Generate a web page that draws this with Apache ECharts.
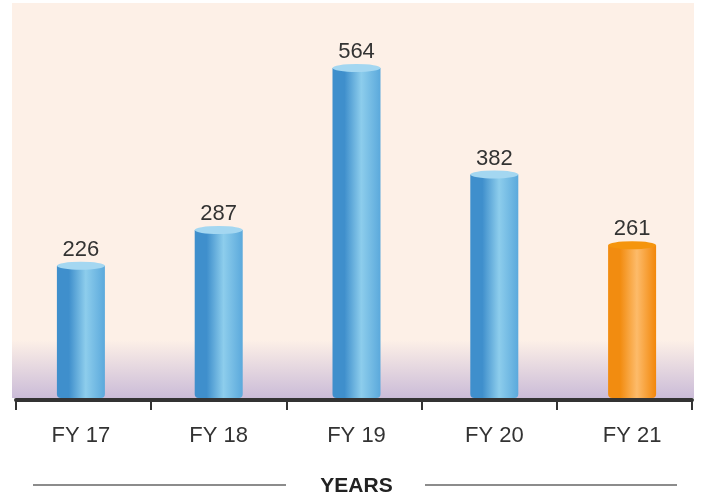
<!DOCTYPE html>
<html>
<head>
<meta charset="utf-8">
<script src="https://cdn.jsdelivr.net/npm/echarts@6/dist/echarts.min.js"></script>
<style>
  html, body { margin: 0; padding: 0; background: #fff; }
  #main { width: 704px; height: 498px; }
</style>
</head>
<body>
<div id="main"></div>
<script>
// data
var categories = ['FY 17', 'FY 18', 'FY 19', 'FY 20', 'FY 21']
var values = [226, 287, 564, 382, 261]
var highlightIndex = 4 // last year drawn in orange

var font = '"Liberation Sans", Arial, Helvetica, sans-serif'

function sideGradient (left, mid, right) {
  return new echarts.graphic.LinearGradient(0, 0, 1, 0, [
    { offset: 0, color: left },
    { offset: 0.25, color: left },
    { offset: 0.6, color: mid },
    { offset: 1, color: right }
  ])
}
var blueBody = sideGradient('#3f8fcc', '#8dcdec', '#5ba9dc')
var orangeBody = sideGradient('#f28c10', '#fdbb6a', '#f2870a')

var bodyData = values.map(function (v, i) {
  return { value: v, itemStyle: { color: i === highlightIndex ? orangeBody : blueBody } }
})
var topData = values.map(function (v, i) {
  return { value: v, itemStyle: { color: i === highlightIndex ? '#f5950e' : '#a4d7f1' } }
})

var myChart = echarts.init(document.getElementById('main'))
var option = {
  animation: false,
  graphic: [
    // peach plot background
    { type: 'rect', z: -10, shape: { x: 12, y: 3, width: 682, height: 395 }, style: { fill: '#fdf0e7' } },
    // purple floor shadow
    {
      type: 'rect', z: -9,
      shape: { x: 12, y: 340, width: 682, height: 58 },
      style: {
        fill: new echarts.graphic.LinearGradient(0, 0, 0, 1, [
          { offset: 0, color: 'rgba(200,185,215,0)' },
          { offset: 1, color: 'rgba(200,185,215,0.95)' }
        ])
      }
    },
    // lines beside the axis name
    { type: 'line', shape: { x1: 33, y1: 485, x2: 286, y2: 485 }, style: { stroke: '#666', lineWidth: 1.5 } },
    { type: 'line', shape: { x1: 425, y1: 485, x2: 677, y2: 485 }, style: { stroke: '#666', lineWidth: 1.5 } }
  ],
  grid: [
    { left: 12, right: 3, top: 3, bottom: 100, outerBoundsMode: 'none', containLabel: false },
    { left: 16, right: 12, top: 3, bottom: 98, outerBoundsMode: 'none', containLabel: false }
  ],
  xAxis: [
    {
      type: 'category',
      gridIndex: 0,
      data: categories,
      axisLine: { show: false },
      axisTick: { show: false },
      axisLabel: { color: '#333', fontSize: 22, fontFamily: font, margin: 27 },
      name: 'YEARS',
      nameLocation: 'middle',
      nameGap: 78,
      nameTextStyle: { color: '#222', fontSize: 21, fontWeight: 'bold', fontFamily: font }
    },
    {
      type: 'category',
      gridIndex: 1,
      data: categories,
      boundaryGap: true,
      axisLine: { show: true, lineStyle: { color: '#333', width: 4 } },
      axisTick: { show: true, interval: 0, length: 10, lineStyle: { color: '#333', width: 2 } },
      axisLabel: { show: true, interval: 0, color: 'rgba(0,0,0,0)', fontSize: 1 }
    }
  ],
  yAxis: [
    { type: 'value', gridIndex: 0, min: 0, max: 675, show: false },
    { type: 'value', gridIndex: 1, min: 0, max: 675, show: false }
  ],
  series: [
    {
      type: 'bar',
      barWidth: 48,
      z: 2,
      itemStyle: { borderRadius: [0, 0, 4, 4] },
      data: bodyData
    },
    {
      type: 'pictorialBar',
      symbol: 'circle',
      symbolSize: [48, 8],
      symbolOffset: [0, '-50%'],
      symbolPosition: 'end',
      z: 3,
      label: {
        show: true,
        position: 'top',
        distance: 1,
        color: '#333',
        fontSize: 22,
        fontFamily: font
      },
      data: topData
    }
  ]
}
myChart.setOption(option)
</script>
</body>
</html>
